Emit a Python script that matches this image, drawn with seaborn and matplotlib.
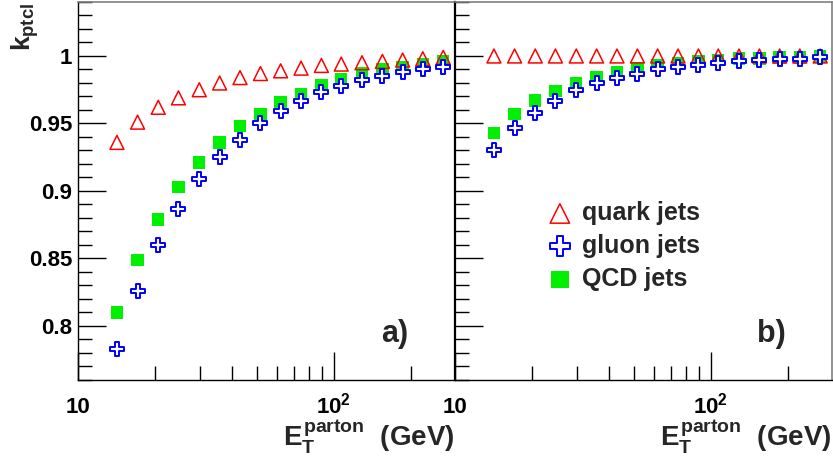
import numpy as np
import pandas as pd
import matplotlib
matplotlib.use("Agg")
import matplotlib.pyplot as plt
import seaborn as sns
from matplotlib.ticker import FixedLocator, MultipleLocator, NullFormatter, FuncFormatter

# ---------------- data ----------------
et = [14.2, 17.1, 20.6, 24.7, 29.8, 35.8, 43.0, 51.7, 62.0, 74.5, 89.5,
      107, 129, 155, 186, 223, 268]

quark_a = [0.936, 0.951, 0.962, 0.969, 0.975, 0.980, 0.984, 0.987, 0.989,
           0.991, 0.993, 0.994, 0.995, 0.996, 0.997, 0.998, 0.999]
gluon_a = [0.783, 0.826, 0.860, 0.887, 0.909, 0.925, 0.938, 0.950, 0.959,
           0.967, 0.973, 0.978, 0.982, 0.985, 0.988, 0.990, 0.992]
qcd_a = [0.810, 0.849, 0.879, 0.903, 0.921, 0.936, 0.948, 0.957, 0.966,
         0.972, 0.978, 0.983, 0.987, 0.990, 0.992, 0.994, 0.996]

quark_b = [1.000] * 17
gluon_b = [0.930, 0.947, 0.958, 0.967, 0.975, 0.980, 0.984, 0.987, 0.990,
           0.992, 0.993, 0.995, 0.996, 0.997, 0.998, 0.998, 0.999]
qcd_b = [0.943, 0.957, 0.967, 0.974, 0.980, 0.984, 0.988, 0.991, 0.993,
         0.995, 0.996, 0.997, 0.998, 0.998, 0.999, 0.999, 0.9995]

labels = ["quark jets", "gluon jets", "QCD jets"]
panel_tags = ["a)", "b)"]
xtick_vals = [10, 100]
xtick_labels = ["10", r"$10^{2}$"]
xminor_vals = [20, 30, 40, 50, 60, 70, 80, 90, 200]

# ---------------- style ----------------
sns.set_theme(style="white")
plt.rcParams["font.family"] = ["Liberation Sans", "DejaVu Sans"]
plt.rcParams["font.weight"] = "bold"
plt.rcParams["mathtext.fontset"] = "custom"
plt.rcParams["mathtext.rm"] = "Liberation Sans:bold"
plt.rcParams["mathtext.it"] = "Liberation Sans:bold"
plt.rcParams["mathtext.bf"] = "Liberation Sans:bold"
plt.rcParams["mathtext.sf"] = "Liberation Sans:bold"

RED = "#ff0000"
BLUE = "#0000ff"
GREEN = "#00f000"

W, H = 833, 462
fig = plt.figure(figsize=(W / 100, H / 100), dpi=100)
fig.patch.set_facecolor("white")
axa = fig.add_axes([78 / W, 82 / H, 377 / W, 378 / H])
axb = fig.add_axes([455 / W, 82 / H, 377 / W, 378 / H])


def panel(ax, q, g, c, with_labels):
    df = pd.DataFrame({"et": et, "quark": q, "gluon": g, "qcd": c})
    sns.scatterplot(data=df, x="et", y="qcd", ax=ax, marker="s", s=80,
                    color=GREEN, edgecolor="none", linewidth=0, zorder=2,
                    label=labels[2] if with_labels else None)
    sns.scatterplot(data=df, x="et", y="quark", ax=ax, marker="^", s=100,
                    facecolors="none", edgecolor=RED, linewidth=1.1, zorder=3,
                    label=labels[0] if with_labels else None)
    sns.scatterplot(data=df, x="et", y="gluon", ax=ax, marker="P", s=105,
                    facecolor="white", edgecolor=BLUE, linewidth=1.4, zorder=4,
                    label=labels[1] if with_labels else None)
    ax.set_xscale("log")
    ax.set_xlim(10, 298)
    ax.set_ylim(0.76, 1.04)
    ax.set_xlabel("")
    ax.set_ylabel("")
    ax.xaxis.set_major_locator(FixedLocator(xtick_vals))
    ax.xaxis.set_minor_locator(FixedLocator(xminor_vals))
    ax.xaxis.set_minor_formatter(NullFormatter())
    ax.set_xticklabels(xtick_labels)
    ax.yaxis.set_major_locator(MultipleLocator(0.05))
    ax.yaxis.set_minor_locator(MultipleLocator(0.01))
    ax.yaxis.set_major_formatter(FuncFormatter(lambda v, p: f"{v:g}"))
    ax.tick_params(which="both", direction="in", top=False, right=False,
                   bottom=True, left=True, colors="black", labelsize=16)
    ax.tick_params(which="major", length=20, width=1)
    ax.tick_params(which="minor", length=10, width=1)
    ax.tick_params(axis="x", pad=24)
    ax.tick_params(axis="y", pad=4)
    for lab in ax.get_xticklabels():
        lab.set_va("baseline")
        lab.set_fontweight("bold")
    for lab in ax.get_yticklabels():
        lab.set_fontweight("bold")
    ax.spines["top"].set_color("#808080")
    ax.spines["top"].set_linewidth(1.2)
    ax.spines["bottom"].set_color("black")
    ax.spines["bottom"].set_linewidth(1.0)
    ax.spines["left"].set_color("black")
    ax.grid(False)
    ax.text(1.0, -0.177, r"$E_{T}^{parton}$  (GeV)", transform=ax.transAxes,
            ha="right", va="baseline", fontsize=20, fontweight="bold")


panel(axa, quark_a, gluon_a, qcd_a, False)
panel(axb, quark_b, gluon_b, qcd_b, True)

axa.spines["left"].set_linewidth(1.0)
axa.spines["right"].set_visible(False)
axb.spines["left"].set_linewidth(1.6)
axb.spines["right"].set_color("#808080")
axb.spines["right"].set_linewidth(1.2)
axb.tick_params(axis="y", labelleft=False)

axa.text(0.84, 0.10, panel_tags[0], transform=axa.transAxes, ha="center",
         va="baseline", fontsize=22, fontweight="bold")
axb.text(0.84, 0.10, panel_tags[1], transform=axb.transAxes, ha="center",
         va="baseline", fontsize=22, fontweight="bold")

h, l = axb.get_legend_handles_labels()
order = [l.index(x) for x in labels]
axb.legend([h[i] for i in order], [l[i] for i in order], loc="upper left",
           bbox_to_anchor=(0.245, 0.4735), frameon=False,
           prop={"weight": "bold", "size": 18}, handlelength=1.0,
           handletextpad=0.38, labelspacing=0.36, borderaxespad=0,
           borderpad=0, markerscale=1.4)

fig.text(25 / W, 1 - 3 / H, r"$k_{ptcl}$", rotation=90, ha="center",
         va="top", fontsize=19, fontweight="bold")

fig.savefig("out.png", dpi=100)
